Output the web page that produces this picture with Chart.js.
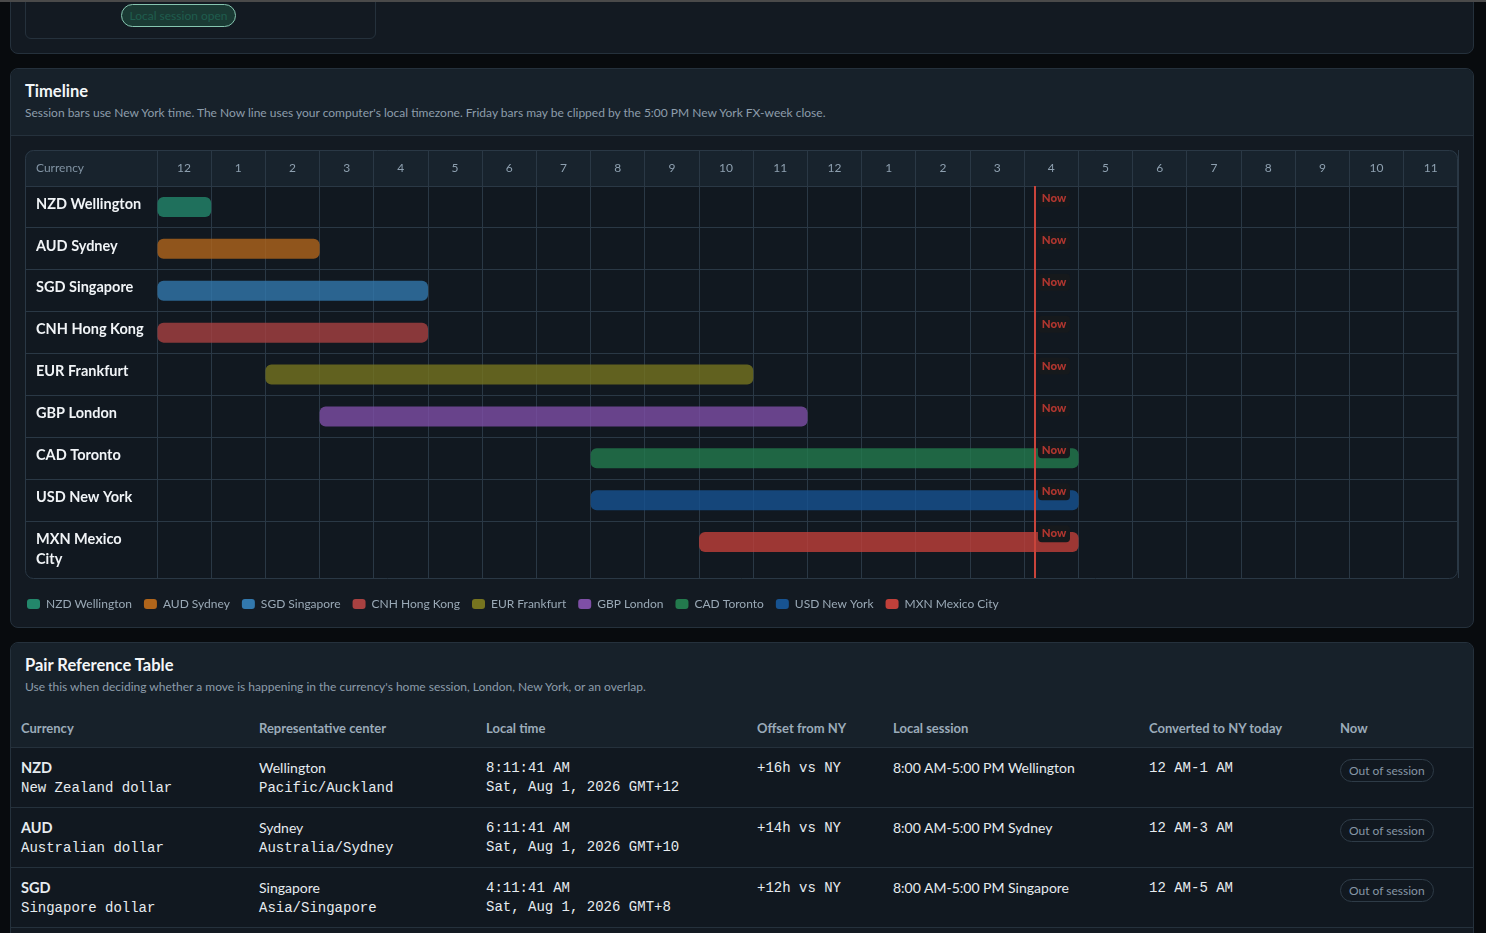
<!DOCTYPE html>
<html>
<head>
<meta charset="utf-8">
<title>FX Sessions</title>
<script src="https://cdn.jsdelivr.net/npm/chart.js@4.4.1/dist/chart.umd.min.js"></script>
<style>
  * { box-sizing: border-box; }
  html, body { margin: 0; padding: 0; }
  body {
    width: 1486px; height: 933px; overflow: hidden; position: relative;
    background: #080b0e; color: #e8edf1;
    font-family: Lato, "Noto Sans", sans-serif;
  }
  .topline { position: absolute; left: 0; top: 0; width: 1486px; height: 2px; background: #4a4a4a; z-index: 5; }
  .panel { position: absolute; left: 10px; width: 1464px; border: 1px solid #25313c; border-radius: 8px; background: #131a22; overflow: hidden; }
  .panel-head { position: absolute; left: 0; top: 0; right: 0; background: #17212a; border-bottom: 1px solid #25313c; }
  .title { position: absolute; left: 25px; font-size: 16.5px; line-height: 20px; font-weight: 700; color: #f3f6f8; margin: 0; }
  .sub { position: absolute; left: 25px; font-size: 12px; line-height: 14px; color: #8d9dab; margin: 0; white-space: nowrap; }
  .box1 { position: absolute; left: 25px; top: -30px; width: 351px; height: 69px; border: 1px solid #25313c; border-radius: 6px; }
  .pill-open {
    position: absolute; left: 121px; top: 4px; width: 115px; height: 23px;
    border: 1px solid #86c5b0; border-radius: 12px; background: #1a3a34;
    color: #1f5d4e; font-size: 12px; line-height: 21px; text-align: center;
  }
  #wrap { position: absolute; left: 15px; top: 149px; width: 1450px; height: 471px; }
  table { position: absolute; left: 11px; top: 709px; width: 1462px; border-collapse: collapse; table-layout: fixed; }
  th {
    text-align: left; font-size: 13px; font-weight: 700; color: #9babb9; background: #17212a;
    height: 38px; padding: 0 0 0 10px; border-bottom: 1px solid #25313c; vertical-align: middle;
  }
  td {
    height: 60px; padding: 10px 0 0 10px; vertical-align: top; border-bottom: 1px solid #25313c;
    font-size: 14px; line-height: 19px; color: #e6ebef; background: #111820;
  }
  .mono { font-family: "Liberation Mono", "DejaVu Sans Mono", monospace; font-size: 14px; }
  td.mono { padding-top: 11px; }
  .code { font-weight: 700; font-size: 14.5px; }
  .pill-out {
    display: inline-block; margin-top: 1px; height: 23px; padding: 0 8px;
    border: 1px solid #2e3b47; border-radius: 12px; color: #8696a5; font-size: 12px; line-height: 21px;
  }
</style>
</head>
<body>
<div class="topline"></div>

<div class="panel" style="top:-40px;height:94px;"></div>
<div class="box1"></div>
<div class="pill-open">Local session open</div>

<div class="panel" style="top:68px;height:560px;">
  <div class="panel-head" style="height:67px;"></div>
</div>
<h2 class="title" style="top:81px;">Timeline</h2>
<p class="sub" style="top:106px;">Session bars use New York time. The Now line uses your computer's local timezone. Friday bars may be clipped by the 5:00 PM New York FX-week close.</p>
<div id="wrap"><canvas id="timeline" width="1450" height="471"></canvas></div>

<div class="panel" style="top:642px;height:400px;">
  <div class="panel-head" style="height:67px;"></div>
</div>
<h2 class="title" style="top:655px;">Pair Reference Table</h2>
<p class="sub" style="top:680px;">Use this when deciding whether a move is happening in the currency's home session, London, New York, or an overlap.</p>
<table>
  <colgroup>
    <col style="width:238px"><col style="width:227px"><col style="width:271px"><col style="width:136px">
    <col style="width:256px"><col style="width:191px"><col style="width:143px">
  </colgroup>
  <thead>
    <tr><th>Currency</th><th>Representative center</th><th>Local time</th><th>Offset from NY</th><th>Local session</th><th>Converted to NY today</th><th>Now</th></tr>
  </thead>
  <tbody>
    <tr>
      <td><span class="code">NZD</span><br><span class="mono">New Zealand dollar</span></td>
      <td>Wellington<br><span class="mono">Pacific/Auckland</span></td>
      <td class="mono">8:11:41 AM<br>Sat, Aug 1, 2026 GMT+12</td>
      <td class="mono">+16h vs NY</td>
      <td>8:00 AM-5:00 PM Wellington</td>
      <td class="mono">12 AM-1 AM</td>
      <td><span class="pill-out">Out of session</span></td>
    </tr>
    <tr>
      <td><span class="code">AUD</span><br><span class="mono">Australian dollar</span></td>
      <td>Sydney<br><span class="mono">Australia/Sydney</span></td>
      <td class="mono">6:11:41 AM<br>Sat, Aug 1, 2026 GMT+10</td>
      <td class="mono">+14h vs NY</td>
      <td>8:00 AM-5:00 PM Sydney</td>
      <td class="mono">12 AM-3 AM</td>
      <td><span class="pill-out">Out of session</span></td>
    </tr>
    <tr>
      <td><span class="code">SGD</span><br><span class="mono">Singapore dollar</span></td>
      <td>Singapore<br><span class="mono">Asia/Singapore</span></td>
      <td class="mono">4:11:41 AM<br>Sat, Aug 1, 2026 GMT+8</td>
      <td class="mono">+12h vs NY</td>
      <td>8:00 AM-5:00 PM Singapore</td>
      <td class="mono">12 AM-5 AM</td>
      <td><span class="pill-out">Out of session</span></td>
    </tr>
  </tbody>
</table>

<script>
// session rows, New York hours (0 = midnight)
const currencies = ['NZD Wellington', 'AUD Sydney', 'SGD Singapore', 'CNH Hong Kong', 'EUR Frankfurt',
  'GBP London', 'CAD Toronto', 'USD New York', 'MXN Mexico City'];
const rowLabels = [['NZD Wellington'], ['AUD Sydney'], ['SGD Singapore'], ['CNH Hong Kong'], ['EUR Frankfurt'],
  ['GBP London'], ['CAD Toronto'], ['USD New York'], ['MXN Mexico', 'City']];
const sessionStart = [0, 0, 0, 0, 2, 3, 8, 8, 10];
const sessionEnd = [1, 3, 5, 5, 11, 12, 17, 17, 17];
const seriesColors = ['#23876b', '#b0651b', '#3278ad', '#a84141', '#76741f', '#7e4fa6', '#237a4d', '#175391', '#c0403a'];
const hourLabels = ['12', '1', '2', '3', '4', '5', '6', '7', '8', '9', '10', '11',
  '12', '1', '2', '3', '4', '5', '6', '7', '8', '9', '10', '11'];
const nowHour = 16.2;

const GRID = '#2a3845';
const FONT = 'Lato';

function fade(hex, a) {
  const n = parseInt(hex.slice(1), 16);
  return `rgba(${n >> 16}, ${(n >> 8) & 255}, ${n & 255}, ${a})`;
}

// header band, "Currency" cell and outer border of the grid
const framePlugin = {
  id: 'frame',
  beforeDraw(chart) {
    const { ctx, chartArea: a } = chart;
    const left = a.left - 132, top = a.top - 36;
    ctx.save();
    ctx.fillStyle = '#111820';
    ctx.beginPath();
    ctx.roundRect(left, top, a.right - left, a.bottom - top, 8);
    ctx.fill();
    ctx.fillStyle = '#18232d';
    ctx.beginPath();
    ctx.roundRect(left, top, a.right - left, 36, [8, 8, 0, 0]);
    ctx.fill();
    ctx.fillStyle = '#8193a3';
    ctx.font = `12px ${FONT}`;
    ctx.textBaseline = 'middle';
    ctx.fillText('Currency', left + 11, top + 18);
    ctx.restore();
  },
  afterDraw(chart) {
    const { ctx, chartArea: a } = chart;
    const left = a.left - 132, top = a.top - 36;
    ctx.save();
    ctx.strokeStyle = GRID;
    ctx.lineWidth = 1;
    ctx.beginPath();
    ctx.roundRect(left + 0.5, top + 0.5, a.right - left - 1, a.bottom - top, 8);
    ctx.stroke();
    ctx.restore();
  }
};

// row labels, now line and "Now" badges
const rowsPlugin = {
  id: 'rows',
  afterDatasetsDraw(chart) {
    const { ctx, chartArea: a, scales } = chart;
    const y = scales.y, x = scales.x;
    ctx.save();
    ctx.textBaseline = 'middle';
    ctx.fillStyle = '#f1f4f7';
    ctx.font = `bold 14.5px ${FONT}`;
    rowLabels.forEach((lines, i) => {
      const top = y.getPixelForValue(i);
      lines.forEach((ln, k) => ctx.fillText(ln, a.left - 121, top + 18 + k * 20));
    });

    const px = Math.round(x.getPixelForValue(nowHour));
    ctx.strokeStyle = '#c9443b';
    ctx.lineWidth = 2;
    ctx.beginPath();
    ctx.moveTo(px, a.top);
    ctx.lineTo(px, a.bottom);
    ctx.stroke();

    ctx.font = `900 11.5px ${FONT}`;
    ctx.textAlign = 'center';
    currencies.forEach((_, i) => {
      const top = y.getPixelForValue(i);
      ctx.fillStyle = '#16191c';
      ctx.beginPath();
      ctx.roundRect(px + 3, top + 4, 32, 17, 4);
      ctx.fill();
      ctx.fillStyle = '#b0362f';
      ctx.fillText('Now', px + 19, top + 12.5);
    });
    ctx.restore();
  }
};

const datasets = currencies.map((name, i) => ({
  label: name,
  data: [{ x: [sessionStart[i], sessionEnd[i]], y: i + 0.5 }],
  backgroundColor: fade(seriesColors[i], 0.8),
  borderWidth: 0,
  borderSkipped: false,
  borderRadius: 6,
  maxBarThickness: 20,
  grouped: false
}));

new Chart(document.getElementById('timeline'), {
  type: 'bar',
  data: { datasets },
  options: {
    indexAxis: 'y',
    responsive: false,
    animation: false,
    events: [],
    layout: { padding: { left: 0, top: 1, right: 7, bottom: 0 } },
    scales: {
      x: {
        type: 'linear', position: 'top', min: 0, max: 24, offset: false,
        afterBuildTicks: s => { s.ticks = hourLabels.map((_, i) => ({ value: i })).concat([{ value: 24 }]); },
        afterFit: s => { s.height = 36; },
        grid: { color: GRID, tickColor: GRID, drawTicks: true, tickLength: 36, offset: false },
        border: { color: GRID },
        ticks: {
          autoSkip: false, maxRotation: 0, padding: -25, labelOffset: 27,
          color: '#8ea0b0', font: { family: FONT, size: 12 },
          callback: (v, i) => hourLabels[i] ?? ''
        }
      },
      y: {
        type: 'linear', min: 0, max: 393 / 42, reverse: true, offset: false,
        afterBuildTicks: s => { s.ticks = currencies.map((_, i) => ({ value: i })); },
        afterFit: s => { s.width = 142; },
        grid: { color: GRID, tickColor: GRID, drawTicks: true, tickLength: 132, offset: false },
        border: { color: GRID },
        ticks: { display: false }
      },
      spacer: {
        type: 'linear', position: 'bottom', axis: 'x',
        grid: { display: false }, border: { display: false }, ticks: { display: false },
        afterFit: s => { s.height = 8; }
      }
    },
    plugins: {
      tooltip: { enabled: false },
      legend: {
        position: 'bottom', align: 'start',
        labels: {
          boxWidth: 13, boxHeight: 10, useBorderRadius: true, borderRadius: 3, padding: 12,
          color: '#9aa9b6', font: { family: FONT, size: 12 },
          generateLabels: chart => chart.data.datasets.map((ds, i) => ({
            text: ds.label, fillStyle: seriesColors[i], strokeStyle: seriesColors[i], lineWidth: 0,
            hidden: !chart.isDatasetVisible(i), datasetIndex: i, fontColor: '#9aa9b6', borderRadius: 3
          }))
        }
      }
    }
  },
  plugins: [framePlugin, rowsPlugin]
});
</script>
</body>
</html>
